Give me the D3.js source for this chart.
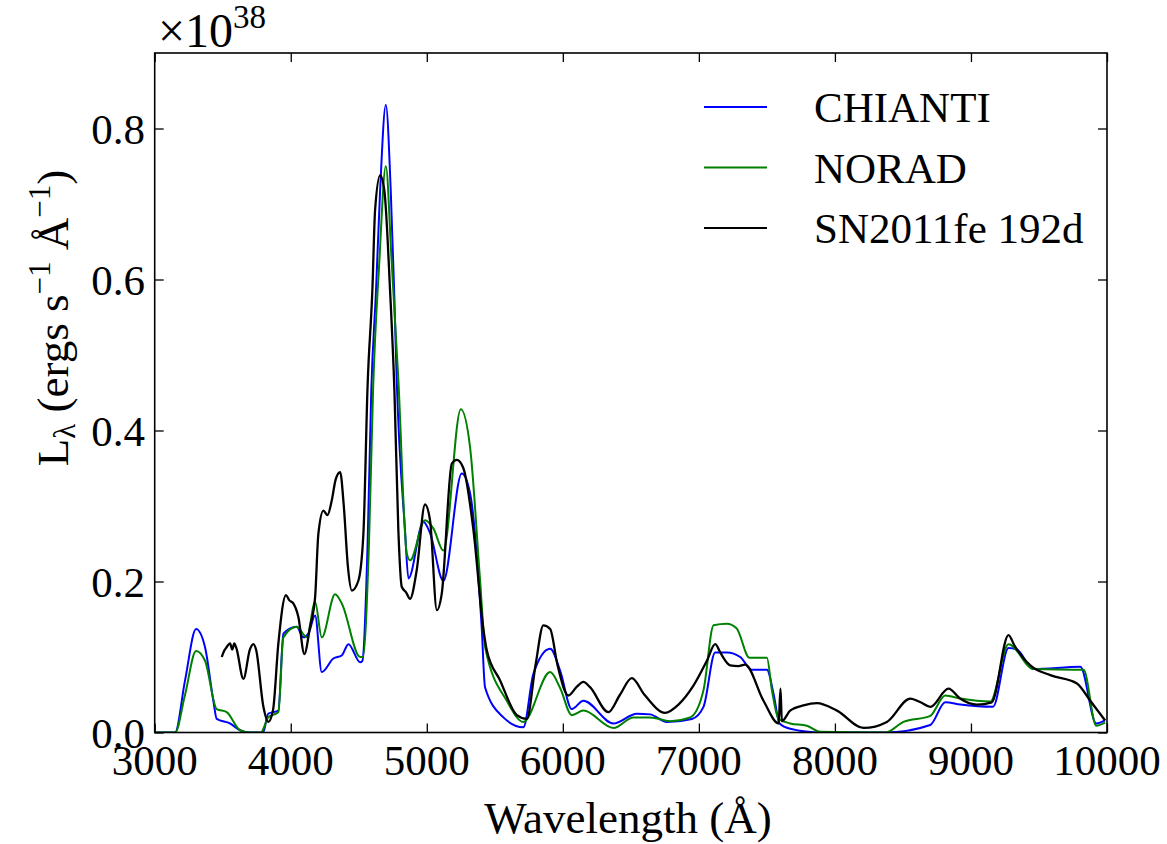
<!DOCTYPE html>
<html>
<head>
<meta charset="utf-8">
<script src="https://cdn.jsdelivr.net/npm/d3@7"></script>
<style>
  body { margin: 0; background: #fff; }
</style>
</head>
<body>
<div id="chart"></div>
<script>
// constants
const width = 1167,
  height = 844,
  margin = { top: 53, right: 60, bottom: 111.5, left: 154.7 };
const serif = "'Liberation Serif', 'Times New Roman', 'DejaVu Serif', serif";

// data: [wavelength (A), luminosity (1e38 ergs/s/A)]
const chianti = [
  [3000, 0], [3150, 0], [3223, 0.069], [3304, 0.137], [3370, 0.113], [3431, 0.042],
  [3456, 0.018], [3553, 0.012], [3627, 0.003], [3700, 0], [3796, 0], [3835, 0.025],
  [3909, 0.029], [3946, 0.131], [4044, 0.140], [4093, 0.126], [4130, 0.131], [4179, 0.155],
  [4228, 0.080], [4313, 0.098], [4375, 0.102], [4424, 0.117], [4510, 0.093], [4527, 0.095],
  [4565, 0.25], [4592, 0.453], [4627, 0.586], [4657, 0.718], [4699, 0.831], [4735, 0.718],
  [4760, 0.586], [4779, 0.467], [4840, 0.268], [4865, 0.204], [4975, 0.279], [5024, 0.264],
  [5122, 0.201], [5257, 0.343], [5318, 0.317], [5404, 0.138], [5428, 0.060], [5563, 0.020],
  [5710, 0.007], [5784, 0.078], [5907, 0.111], [5980, 0.082], [6066, 0.031], [6151, 0.042],
  [6372, 0.012], [6544, 0.025], [6642, 0.024], [6765, 0.014], [6949, 0.018], [7034, 0.034],
  [7120, 0.106], [7206, 0.106], [7304, 0.100], [7390, 0.083], [7500, 0.083], [7549, 0.051],
  [7593, 0.012], [7671, 0.005], [7900, 0], [8370, 0], [8701, 0.010], [8811, 0.040],
  [8922, 0.037], [9162, 0.034], [9276, 0.112], [9337, 0.110], [9460, 0.084], [9804, 0.087],
  [9921, 0.012], [9986, 0.016]
];

const norad = [
  [3000, 0], [3150, 0], [3223, 0.05], [3304, 0.108], [3370, 0.095], [3456, 0.031],
  [3529, 0.027], [3627, 0.003], [3700, 0], [3780, 0], [3835, 0.02], [3909, 0.027],
  [3946, 0.126], [4044, 0.140], [4118, 0.126], [4179, 0.173], [4228, 0.126], [4326, 0.183],
  [4375, 0.171], [4510, 0.100], [4530, 0.10], [4575, 0.25], [4605, 0.453], [4650, 0.62],
  [4699, 0.750], [4740, 0.63], [4791, 0.467], [4853, 0.237], [4877, 0.228], [4987, 0.281],
  [5049, 0.270], [5122, 0.241], [5250, 0.428], [5318, 0.378], [5392, 0.201], [5429, 0.113],
  [5588, 0.042], [5710, 0.014], [5907, 0.080], [5980, 0.059], [6066, 0.023], [6151, 0.029],
  [6372, 0.006], [6519, 0.020], [6642, 0.020], [6789, 0.015], [6936, 0.020], [7034, 0.056],
  [7108, 0.142], [7206, 0.144], [7277, 0.138], [7372, 0.099], [7500, 0.099], [7537, 0.056],
  [7586, 0.018], [7671, 0.012], [7794, 0.009], [7892, 0.001], [8370, 0], [8504, 0.014],
  [8701, 0.022], [8811, 0.049], [8922, 0.045], [9142, 0.041], [9276, 0.117], [9460, 0.084],
  [9828, 0.083], [9921, 0.009], [9986, 0.013]
];

const sn2011fe = [
  [3493, 0.100], [3510, 0.108], [3525, 0.112], [3554, 0.118], [3570, 0.110], [3585, 0.118],
  [3600, 0.112], [3652, 0.071], [3700, 0.110], [3725, 0.117], [3745, 0.110], [3799, 0.034],
  [3835, 0.014], [3870, 0.03], [3909, 0.118], [3965, 0.182], [3990, 0.175], [4019, 0.171],
  [4056, 0.153], [4100, 0.104], [4142, 0.140], [4179, 0.179], [4203, 0.263], [4240, 0.294],
  [4270, 0.288], [4301, 0.307], [4330, 0.335], [4363, 0.345], [4390, 0.30], [4420, 0.22],
  [4449, 0.188], [4497, 0.201], [4534, 0.263], [4565, 0.46], [4600, 0.586], [4620, 0.692],
  [4657, 0.738], [4688, 0.718], [4730, 0.586], [4762, 0.453], [4791, 0.268], [4816, 0.193],
  [4850, 0.185], [4877, 0.177], [4926, 0.215], [4987, 0.302], [5024, 0.281], [5074, 0.162],
  [5110, 0.184], [5184, 0.356], [5221, 0.361], [5269, 0.350], [5343, 0.268], [5416, 0.137],
  [5441, 0.109], [5539, 0.069], [5662, 0.023], [5735, 0.018], [5800, 0.09], [5857, 0.142],
  [5907, 0.137], [5960, 0.09], [6041, 0.049], [6100, 0.06], [6151, 0.067], [6200, 0.06],
  [6335, 0.027], [6420, 0.05], [6507, 0.072], [6600, 0.05], [6752, 0.026], [6850, 0.037],
  [6960, 0.062], [7059, 0.095], [7120, 0.117], [7160, 0.105], [7230, 0.089], [7290, 0.088],
  [7340, 0.090], [7475, 0.042], [7586, 0.012], [7600, 0.058], [7610, 0.015], [7671, 0.029],
  [7769, 0.036], [7868, 0.039], [8015, 0.029], [8211, 0.006], [8382, 0.014], [8554, 0.045],
  [8630, 0.040], [8701, 0.034], [8835, 0.058], [8920, 0.045], [9044, 0.037], [9153, 0.040],
  [9276, 0.129], [9320, 0.115], [9436, 0.089], [9583, 0.076], [9779, 0.065], [9877, 0.042],
  [9986, 0.016]
];

const xTicks = [3000, 4000, 5000, 6000, 7000, 8000, 9000, 10000];
const yTicks = [0.0, 0.2, 0.4, 0.6, 0.8];

const seriesNames = ["CHIANTI", "NORAD", "SN2011fe 192d"];
const seriesColors = ["#0000ff", "#008000", "#000000"];
const seriesWidths = [2, 2, 2.3];
const seriesData = [chianti, norad, sn2011fe];

const svg = d3.select("#chart")
  .append("svg")
  .attr("width", width)
  .attr("height", height)
  .style("font-family", serif);

const x = d3.scaleLinear()
  .domain([3000, 10000])
  .range([margin.left, width - margin.right]);

const y = d3.scaleLinear()
  .domain([0, 0.9])
  .range([height - margin.bottom, margin.top]);

// clip to the axes box
svg.append("clipPath")
  .attr("id", "clip")
  .append("rect")
  .attr("x", margin.left)
  .attr("y", margin.top)
  .attr("width", x.range()[1] - margin.left)
  .attr("height", y.range()[0] - margin.top);

const line = d3.line()
  .x(d => x(d[0]))
  .y(d => y(d[1]))
  .curve(d3.curveMonotoneX);

svg.append("g")
  .attr("clip-path", "url(#clip)")
  .selectAll("path")
  .data(seriesData)
  .join("path")
  .attr("d", d => line(d))
  .attr("fill", "none")
  .attr("stroke", (d, i) => seriesColors[i])
  .attr("stroke-width", (d, i) => seriesWidths[i])
  .attr("stroke-linejoin", "round");

// axes, ticks inside on all four sides
const tickLen = 9;
const xBottom = svg.append("g")
  .attr("transform", `translate(0,${y(0)})`)
  .call(d3.axisBottom(x).tickValues(xTicks).tickSize(-tickLen).tickFormat(""));
const xTop = svg.append("g")
  .attr("transform", `translate(0,${margin.top})`)
  .call(d3.axisTop(x).tickValues(xTicks).tickSize(-tickLen).tickFormat(""));
const yLeft = svg.append("g")
  .attr("transform", `translate(${margin.left},0)`)
  .call(d3.axisLeft(y).tickValues(yTicks).tickSize(-tickLen).tickFormat(""));
const yRight = svg.append("g")
  .attr("transform", `translate(${x.range()[1]},0)`)
  .call(d3.axisRight(y).tickValues(yTicks).tickSize(-tickLen).tickFormat(""));

[xBottom, xTop, yLeft, yRight].forEach(g => {
  g.select(".domain").remove();
  g.selectAll(".tick text").remove();
  g.selectAll(".tick line").attr("stroke", "#000").attr("stroke-width", 1.3);
});

svg.append("rect")
  .attr("x", margin.left)
  .attr("y", margin.top)
  .attr("width", x.range()[1] - margin.left)
  .attr("height", y.range()[0] - margin.top)
  .attr("fill", "none")
  .attr("stroke", "#000")
  .attr("stroke-width", 1.6);

// tick labels
svg.append("g")
  .selectAll("text")
  .data(xTicks)
  .join("text")
  .attr("x", d => x(d))
  .attr("y", 775)
  .attr("text-anchor", "middle")
  .style("font-family", serif)
  .style("font-size", "43px")
  .text(d => d);

svg.append("g")
  .selectAll("text")
  .data(yTicks)
  .join("text")
  .attr("x", 145)
  .attr("y", d => y(d) + 15)
  .attr("text-anchor", "end")
  .style("font-family", serif)
  .style("font-size", "43px")
  .text(d => d3.format(".1f")(d));

// axis labels
svg.append("text")
  .attr("x", 628)
  .attr("y", 833)
  .attr("text-anchor", "middle")
  .style("font-family", serif)
  .style("font-size", "45px")
  .text("Wavelength (Å)");

const yLabel = svg.append("text")
  .attr("transform", "translate(68,318) rotate(-90)")
  .attr("text-anchor", "middle")
  .style("font-family", serif)
  .style("font-size", "45px");
yLabel.append("tspan").text("L");
yLabel.append("tspan").style("font-size", "31px").attr("dy", 7).text("λ");
yLabel.append("tspan").attr("dy", -7).text(" (ergs s");
yLabel.append("tspan").style("font-size", "31px").attr("dy", -18).text("−1");
yLabel.append("tspan").attr("dy", 18).text(" Å");
yLabel.append("tspan").style("font-size", "31px").attr("dy", -18).text("−1");
yLabel.append("tspan").attr("dy", 18).text(")");

// offset text
const offset = svg.append("text")
  .attr("x", 158)
  .attr("y", 47)
  .style("font-family", serif)
  .style("font-size", "48px");
offset.append("tspan").text("×10");
offset.append("tspan").style("font-size", "33px").attr("dy", -19).text("38");

// legend
const legend = svg.append("g")
  .selectAll("g")
  .data(seriesNames)
  .join("g")
  .attr("transform", (d, i) => `translate(0,${107 + i * 60.5})`);

legend.append("line")
  .attr("x1", 704)
  .attr("x2", 767)
  .attr("stroke", (d, i) => seriesColors[i])
  .attr("stroke-width", 2);

legend.append("text")
  .attr("x", 814)
  .attr("y", 15)
  .style("font-family", serif)
  .style("font-size", "43px")
  .text(d => d);
</script>
</body>
</html>
